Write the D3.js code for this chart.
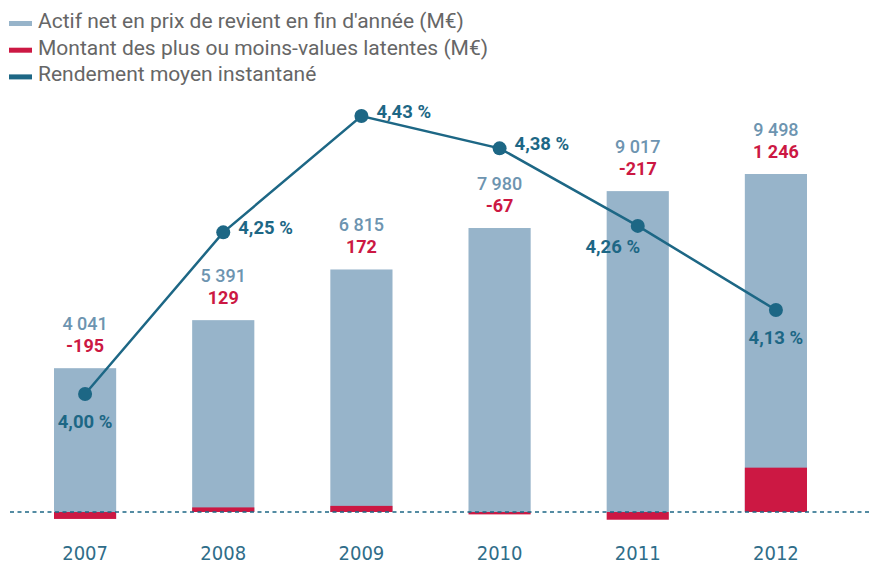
<!DOCTYPE html>
<html><head><meta charset="utf-8">
<script src="https://cdn.jsdelivr.net/npm/d3@7"></script>
<style>body{margin:0;background:#fff}svg{display:block}</style>
</head><body>
<svg id="c" width="869" height="564"></svg>
<script>
const years = ["2007","2008","2009","2010","2011","2012"];
const actifNet = [4041, 5391, 6815, 7980, 9017, 9498];
const plusMoinsValues = [-195, 129, 172, -67, -217, 1246];
const rendement = [4.00, 4.25, 4.43, 4.38, 4.26, 4.13];
const actifLabels = ["4 041","5 391","6 815","7 980","9 017","9 498"];
const pmvLabels = ["-195","129","172","-67","-217","1 246"];
const rendLabels = ["4,00 %","4,25 %","4,43 %","4,38 %","4,26 %","4,13 %"];
const rendPlacement = ["below","right","right","right","belowleft","below"];
const legendItems = [
  {label:"Actif net en prix de revient en fin d'année (M€)", color:"#97b4ca"},
  {label:"Montant des plus ou moins-values latentes (M€)", color:"#cc1843"},
  {label:"Rendement moyen instantané", color:"#1d6785"}
];

const C = {bar:"#97b4ca", red:"#cc1843", line:"#1d6785", grayBlue:"#6d94b0", legend:"#666666", year:"#2f6d89"};
const font = "Roboto, 'Open Sans', sans-serif";
const svg = d3.select("#c");

const x = d3.scaleBand().domain(years).range([16, 845]).paddingInner(0.55).paddingOuter(0.275);
const y = d3.scaleLinear().domain([0, 9498]).range([512, 174]);
const yr = d3.scaleLinear().domain([4.00, 4.43]).range([394, 116]);

// legend
const lg = svg.append("g");
legendItems.forEach((d,i)=>{
  lg.append("rect").attr("x",9).attr("y",21+i*26.7).attr("width",23).attr("height",5).attr("fill",d.color);
  lg.append("text").attr("x",38).attr("y",28+i*26.7).attr("font-family",font).attr("font-size",21)
    .attr("fill",C.legend).text(d.label);
});

// bars
svg.append("g").selectAll("rect").data(years).join("rect")
  .attr("x",d=>x(d)).attr("width",x.bandwidth())
  .attr("y",(d,i)=>y(actifNet[i])).attr("height",(d,i)=>y(0)-y(actifNet[i]))
  .attr("fill",C.bar);
svg.append("g").selectAll("rect").data(years).join("rect")
  .attr("x",d=>x(d)).attr("width",x.bandwidth())
  .attr("y",(d,i)=>Math.min(y(0),y(plusMoinsValues[i])))
  .attr("height",(d,i)=>Math.abs(y(0)-y(plusMoinsValues[i])))
  .attr("fill",C.red);

// baseline dashed
svg.append("line").attr("x1",10).attr("x2",869).attr("y1",y(0)).attr("y2",y(0))
  .attr("stroke",C.line).attr("stroke-width",1.3).attr("stroke-dasharray","4,3.5");

// bar labels
const cx = d=>x(d)+x.bandwidth()/2;
svg.append("g").selectAll("text").data(years).join("text")
  .attr("x",cx).attr("y",(d,i)=>y(actifNet[i])-38).attr("text-anchor","middle")
  .attr("font-family",font).attr("font-size",18).attr("font-weight",500).attr("fill",C.grayBlue).text((d,i)=>actifLabels[i]);
svg.append("g").selectAll("text").data(years).join("text")
  .attr("x",cx).attr("y",(d,i)=>y(actifNet[i])-16).attr("text-anchor","middle")
  .attr("font-family",font).attr("font-size",18).attr("font-weight","bold").attr("fill",C.red).text((d,i)=>pmvLabels[i]);

// line
const line = d3.line().x((d,i)=>cx(years[i])).y(d=>yr(d));
svg.append("path").datum(rendement).attr("d",line).attr("fill","none").attr("stroke",C.line).attr("stroke-width",2.5);
svg.append("g").selectAll("circle").data(rendement).join("circle")
  .attr("cx",(d,i)=>cx(years[i])).attr("cy",d=>yr(d)).attr("r",7).attr("fill",C.line);
svg.append("g").selectAll("text").data(rendement).join("text")
  .attr("x",(d,i)=>{const p=rendPlacement[i];const c=cx(years[i]);return p==="right"?c+15:p==="belowleft"?c-25:c;})
  .attr("y",(d,i)=>{const p=rendPlacement[i];const c=yr(d);return p==="right"?c+2:p==="belowleft"?c+27:c+34;})
  .attr("text-anchor",(d,i)=>rendPlacement[i]==="right"?"start":"middle")
  .attr("font-family",font).attr("font-size",18.5).attr("font-weight","bold").attr("fill",C.line)
  .text((d,i)=>rendLabels[i]);

// year axis
const ax = svg.append("g").attr("transform","translate(0,560)")
  .call(d3.axisBottom(x).tickSize(0).tickPadding(0));
ax.select(".domain").remove();
ax.selectAll("text").attr("dy",0).attr("font-family","'Liberation Sans Narrow', 'DejaVu Sans Condensed', Roboto, sans-serif")
  .attr("font-size",20).attr("fill",C.year);
</script>
</body></html>
